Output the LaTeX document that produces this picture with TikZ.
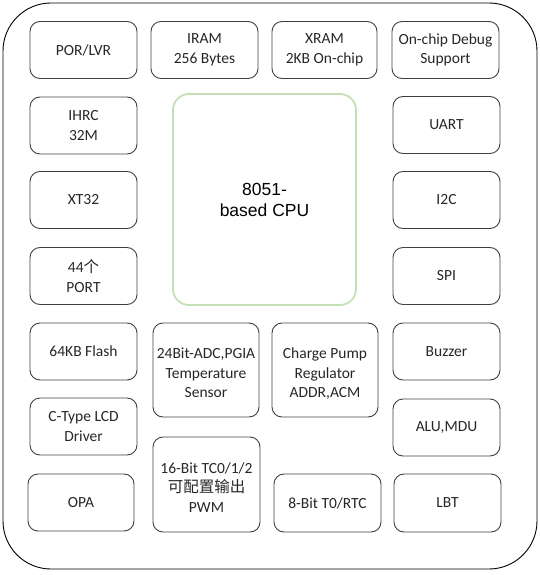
\documentclass[tikz,border=0pt]{standalone}
\usepackage{fontspec}
\setmainfont{Carlito}
\newfontfamily\cjk{Noto Sans CJK SC}
\newfontfamily\arialfont{Liberation Sans}
\definecolor{boxline}{HTML}{404040}
\definecolor{txt}{HTML}{262626}
\definecolor{cpugreen}{HTML}{C5E0B4}
\begin{document}
\begin{tikzpicture}[x=1pt,y=-1pt,
  blk/.style={draw=boxline,line width=0.9pt,rounded corners=10pt,align=center,
    text=txt,font=\fontsize{15.5}{19.5}\selectfont,inner sep=0pt,
    minimum width=107pt,minimum height=57pt},
  tall/.style={minimum height=94pt,text height=55pt,text depth=0pt},
  cpubox/.style={draw=cpugreen,line width=1.8pt,rounded corners=16pt,align=center,
    text=black,font=\fontsize{17.5}{21}\arialfont,inner sep=0pt,
    minimum width=183pt,minimum height=211pt}]
\useasboundingbox (0,0) rectangle (540,575);
\node[draw=black,line width=0.9pt,rounded corners=48pt,minimum width=534pt,minimum height=566pt,inner sep=0pt] (outer) at (270,286) {};
\node[blk] (por) at (83.5,50) {POR/LVR};
\node[blk] (iram) at (204.5,50) {IRAM\\256 Bytes};
\node[blk,minimum width=105pt] (xram) at (324.5,50) {XRAM\\2KB On-chip};
\node[blk] (debug) at (445.5,50) {On-chip Debug\\Support};
\node[blk] (ihrc) at (83.5,125.5) {IHRC\\32M};
\node[blk] (uart) at (446.5,125) {UART};
\node[cpubox] (cpu) at (264.5,199.5) {8051-\\based CPU};
\node[blk] (xt32) at (83.5,200) {XT32};
\node[blk] (i2c) at (446.5,200) {I2C};
\node[blk] (port) at (83.5,276) {44{\cjk 个}\\PORT};
\node[blk] (spi) at (446.5,276) {SPI};
\node[blk] (flash) at (83.5,351.5) {64KB Flash};
\node[blk,minimum width=106pt,tall] (adc) at (206,370) {24Bit-ADC,PGIA\\Temperature\\Sensor};
\node[blk,minimum width=106pt,tall] (charge) at (325,370) {Charge Pump\\Regulator\\ADDR,ACM};
\node[blk] (buzzer) at (446.5,351.5) {Buzzer};
\node[blk] (lcd) at (83.5,426.5) {C-Type LCD\\Driver};
\node[blk] (alu) at (446.5,427.5) {ALU,MDU};
\node[blk,minimum width=106pt] (opa) at (81,502.5) {OPA};
\node[blk,tall,minimum height=95pt] (tc) at (206.5,484.5) {16-Bit TC0/1/2\\{\cjk 可配置输出}\\PWM};
\node[blk,minimum height=58pt] (rtc) at (327.5,503) {8-Bit T0/RTC};
\node[blk,minimum height=58pt] (lbt) at (447.5,503) {LBT};
\end{tikzpicture}
\end{document}
